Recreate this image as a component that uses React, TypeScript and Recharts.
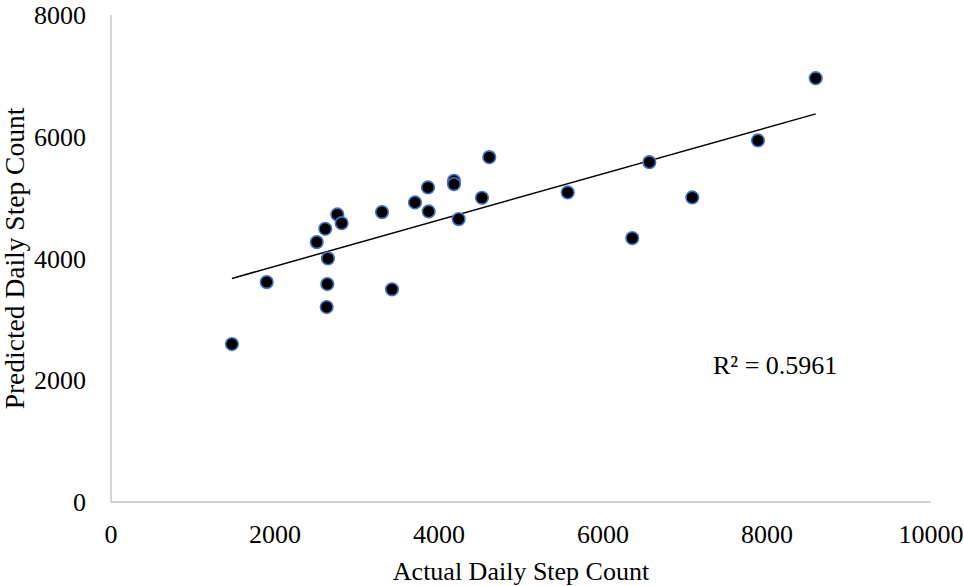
import React from "react";
import {
  ScatterChart,
  Scatter,
  XAxis,
  YAxis,
  ReferenceDot,
} from "recharts";

const actualSteps = [
  1475, 1899, 2509, 2613, 2646, 2638, 2630, 2760, 2813, 3305, 3427, 3707, 3866,
  3874, 4183, 4183, 4240, 4524, 4613, 5570, 6357, 6565, 7089, 7890, 8594,
];
const predictedSteps = [
  2594, 3612, 4269, 4488, 4002, 3580, 3202, 4724, 4581, 4762, 3493, 4921, 5167,
  4773, 5276, 5222, 4647, 4997, 5665, 5085, 4335, 5583, 5003, 5939, 6962,
];
const trendX = [1475, 8594];
const trendY = [3673, 6376];
const xTicks = [0, 2000, 4000, 6000, 8000, 10000];
const yTicks = [0, 2000, 4000, 6000, 8000];
const rSquaredText = "R² = 0.5961";
const rLabelPos = { x: 8100, y: 2250 };

const points = actualSteps.map((x, i) => ({ x, y: predictedSteps[i] }));
const trend = trendX.map((x, i) => ({ x, y: trendY[i] }));

const FONT = "'Liberation Serif', 'Times New Roman', serif";
const AXIS_COLOR = "#bfbfbf";

const Dot = (props: any) => {
  const { cx, cy } = props;
  if (cx == null || cy == null) return null;
  return (
    <circle cx={cx} cy={cy} r={6.3} fill="#000" stroke="#4472C4" strokeWidth={1.6} />
  );
};

const NoDot = () => null;

const YTitle = (props: any) => {
  const vb = props.viewBox || {};
  const cx = 14;
  const cy = vb.y + vb.height / 2;
  return (
    <text
      x={cx}
      y={cy}
      transform={`rotate(-90 ${cx} ${cy})`}
      textAnchor="middle"
      dominantBaseline="central"
      fontFamily={FONT}
      fontSize={27.5}
      fill="#000"
    >
      Predicted Daily Step Count
    </text>
  );
};

export default function App() {
  return (
    <div style={{ position: "absolute", left: 0, top: 0, background: "#fff" }}>
      <ScatterChart
        width={964}
        height={586}
        margin={{ top: 15, right: 33, left: 0, bottom: 0 }}
      >
        <XAxis
          type="number"
          dataKey="x"
          domain={[0, 10000]}
          ticks={xTicks}
          interval={0}
          height={84}
          axisLine={{ stroke: AXIS_COLOR, strokeWidth: 1.3 }}
          tickLine={false}
          tickSize={0}
          tickMargin={22.5}
          tick={{ fontFamily: FONT, fontSize: 26, fill: "#000" }}
          label={{
            value: "Actual Daily Step Count",
            position: "insideBottom",
            offset: 6,
            fontFamily: FONT,
            fontSize: 26,
            fill: "#000",
          }}
        />
        <YAxis
          type="number"
          dataKey="y"
          domain={[0, 8000]}
          ticks={yTicks}
          interval={0}
          width={111}
          axisLine={{ stroke: AXIS_COLOR, strokeWidth: 1.3 }}
          tickLine={false}
          tickSize={0}
          tickMargin={25}
          tick={{ fontFamily: FONT, fontSize: 26, fill: "#000" }}
          label={<YTitle />}
        />
        <Scatter
          data={trend}
          line={{ stroke: "#000", strokeWidth: 1.5 }}
          shape={<NoDot />}
          isAnimationActive={false}
        />
        <Scatter data={points} shape={<Dot />} isAnimationActive={false} />
        <ReferenceDot
          x={rLabelPos.x}
          y={rLabelPos.y}
          r={0}
          stroke="none"
          fill="none"
          label={{
            value: rSquaredText,
            position: "center",
            fontFamily: FONT,
            fontSize: 26,
            fill: "#000",
          }}
        />
      </ScatterChart>
    </div>
  );
}
